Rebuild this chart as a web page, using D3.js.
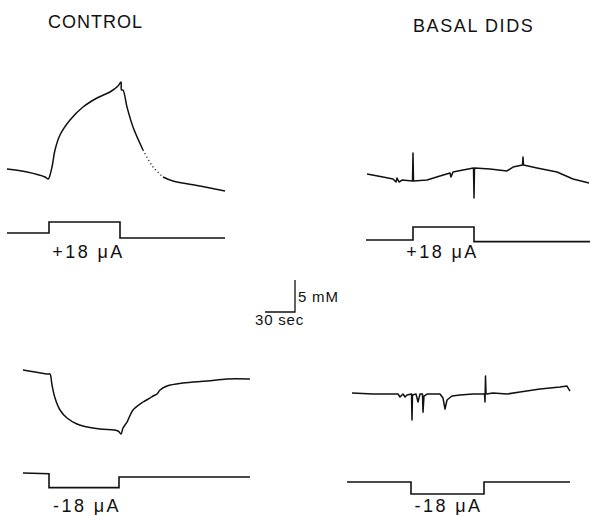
<!DOCTYPE html>
<html>
<head>
<meta charset="utf-8">
<script src="https://cdn.jsdelivr.net/npm/d3@7"></script>
<style>
  body { margin: 0; background: #fff; }
  text { font-family: "Liberation Sans", Arial, sans-serif; fill: #111; }
</style>
</head>
<body>
<svg id="fig"></svg>
<script>
const width = 590;
const height = 515;

// titles and stimulus labels
const titles = ["CONTROL", "BASAL DIDS"];
const stimLabels = ["+18 \u03bcA", "+18 \u03bcA", "-18 \u03bcA", "-18 \u03bcA"];

// CONTROL, +18 uA : time (s) and concentration change (mM)
const ctrlPosT = [0, 20, 38, 41, 42, 45, 48, 53, 63, 76, 90, 103, 111, 114, 114.5, 116, 120, 126, 136, 146, 156, 166, 193, 218];
const ctrlPosC = [0.16, -0.31, -1.09, -1.41, -1.25, 0.47, 3.13, 5.47, 7.81, 9.84, 11.25, 12.19, 13.13, 13.75, 12.5, 12.5, 9.84, 6.72, 3.13, 0.47, -1.09, -1.72, -2.5, -3.28];
const ctrlPosDotted = [136, 156]; // faint, dotted part of the recording

// BASAL DIDS, +18 uA
const didsPosT = [0, 16, 26, 29, 30, 32, 35, 45.5, 46, 46.5, 60, 73, 83, 84, 86, 96, 106.5, 107, 107.5, 123, 140, 146, 155.5, 156, 156.5, 170, 190, 206, 222];
const didsPosC = [0, -0.47, -0.78, -1.25, -0.63, -1.25, -0.94, -1.09, 3.28, -1.09, -0.94, -0.31, 0.16, -0.47, 0.31, 0.63, 0.94, -3.75, 0.94, 0.78, 0.47, 1.09, 1.41, 2.66, 1.41, 0.94, 0.31, -0.78, -1.41];

// CONTROL, -18 uA
const ctrlNegT = [0, 12, 25, 27, 29, 32, 37, 44, 54, 60, 77, 95, 98, 100, 104, 110, 120, 127, 130, 134, 137, 144, 160, 184, 204, 227];
const ctrlNegC = [0, -0.31, -0.63, -0.63, -2.34, -4.38, -6.25, -7.5, -8.44, -8.75, -9.22, -9.53, -10, -9.06, -8.13, -6.25, -5, -4.38, -4.06, -3.75, -3.13, -2.5, -2.03, -1.72, -1.41, -1.41];

// BASAL DIDS, -18 uA
const didsNegT = [0, 21, 46, 48, 51, 53, 55, 59.5, 60, 60.5, 64, 66, 68, 70.5, 71, 72, 75, 88, 91, 93, 95, 100, 108, 121, 132.5, 133, 133.5, 134, 134.5, 141, 155, 168, 188, 208, 215, 218];
const didsNegC = [0, -0.16, -0.16, -0.63, -0.16, -0.63, -0.31, -0.16, -4.22, -0.31, -0.16, -1.4, -0.16, -0.16, -3.0, -0.47, -0.16, -0.16, -0.78, -2.5, -1.09, -0.47, -0.31, -0.16, -0.16, -1.4, 2.66, 0, -0.16, 0, -0.16, 0.16, 0.63, 0.94, 1.09, 0.31];

// stimulus current traces: time (s), current (uA)
const ctrlPosStimT = [0, 42, 42, 113, 113, 218];
const ctrlPosStimI = [0, 0, 16.5, 16.5, -7.5, -7.5];
const didsPosStimT = [-1, 46, 46, 107, 107, 223];
const didsPosStimI = [0, 0, 19.5, 19.5, -2.5, -2.5];
const ctrlNegStimT = [0, 26, 26, 96, 96, 227];
const ctrlNegStimI = [0, -1, -22, -22, -6, -6];
const didsNegStimT = [-5, 59, 59, 132, 132, 218];
const didsNegStimI = [0, 0, -18, -18, 0, 0];

// scale bar
const barSeconds = 30;
const barMM = 5;

const pxPerSec = 1;
const pxPerMM = 6.4;
const pxPerUA = 0.667;

const svg = d3.select("#fig")
    .attr("width", width)
    .attr("height", height)
    .attr("viewBox", `0 0 ${width} ${height}`);

const zip = (t, v) => t.map((d, i) => ({ t: d, v: v[i] }));

// layout: where t=0 sits, trace baseline, stimulus baseline
const panels = [
  { x0: 7,   y0: 170, s0: 233, t: ctrlPosT, c: ctrlPosC, st: ctrlPosStimT, si: ctrlPosStimI, smooth: true, label: 0, dx: 4,  ly: 258 },
  { x0: 367, y0: 174, s0: 240, t: didsPosT, c: didsPosC, st: didsPosStimT, si: didsPosStimI, smooth: false, label: 1, dx: -1, ly: 258 },
  { x0: 23,  y0: 370, s0: 473, t: ctrlNegT, c: ctrlNegC, st: ctrlNegStimT, si: ctrlNegStimI, smooth: true, label: 2, dx: 3,  ly: 512 },
  { x0: 352, y0: 393, s0: 482, t: didsNegT, c: didsNegC, st: didsNegStimT, si: didsNegStimI, smooth: false, label: 3, dx: 1,  ly: 512 }
];

panels.forEach((p, i) => {
  const x = d3.scaleLinear().domain([0, 100]).range([p.x0, p.x0 + 100 * pxPerSec]);
  const y = d3.scaleLinear().domain([0, 10]).range([p.y0, p.y0 - 10 * pxPerMM]);
  const yi = d3.scaleLinear().domain([0, 18]).range([p.s0, p.s0 - 18 * pxPerUA]);

  const g = svg.append("g");
  const data = zip(p.t, p.c);
  const curve = p.smooth ? d3.curveCatmullRom.alpha(0.5) : d3.curveLinear;

  let solid = d3.line().x(d => x(d.t)).y(d => y(d.v)).curve(curve);
  if (i === 0) {
    const [a, b] = ctrlPosDotted;
    solid = solid.defined(d => d.t <= a || d.t >= b);
    g.append("path")
        .attr("d", d3.line().x(d => x(d.t)).y(d => y(d.v)).curve(curve)(data.filter(d => d.t >= a && d.t <= b)))
        .attr("fill", "none")
        .attr("stroke", "#222")
        .attr("stroke-width", 1.3)
        .attr("stroke-dasharray", "1.2,2.6");
  }
  g.append("path")
      .attr("d", solid(data))
      .attr("fill", "none")
      .attr("stroke", "#111")
      .attr("stroke-width", 1.5)
      .attr("stroke-linejoin", "round");

  const stim = zip(p.st, p.si);
  g.append("path")
      .attr("d", d3.line().x(d => x(d.t)).y(d => yi(d.v))(stim))
      .attr("fill", "none")
      .attr("stroke", "#111")
      .attr("stroke-width", 1.6);

  const mid = (p.st[1] + p.st[3]) / 2;
  g.append("text")
      .attr("x", x(mid) + p.dx)
      .attr("y", p.ly)
      .attr("text-anchor", "middle")
      .attr("font-size", 18)
      .attr("letter-spacing", 2.4)
      .text(stimLabels[p.label]);
});

// column titles
svg.append("text").attr("x", 48).attr("y", 28)
    .attr("font-size", 18).attr("letter-spacing", 1)
    .text(titles[0]);
svg.append("text").attr("x", 413).attr("y", 32)
    .attr("font-size", 18).attr("letter-spacing", 1.6)
    .text(titles[1]);

// calibration bar
const bx = d3.scaleLinear().domain([0, barSeconds]).range([265, 265 + barSeconds * pxPerSec]);
const by = d3.scaleLinear().domain([0, barMM]).range([312, 312 - barMM * pxPerMM]);
svg.append("path")
    .attr("d", d3.line()([[bx(0), by(0)], [bx(barSeconds), by(0)], [bx(barSeconds), by(barMM)]]))
    .attr("fill", "none")
    .attr("stroke", "#111")
    .attr("stroke-width", 1.3);
svg.append("text").attr("x", bx(barSeconds) + 3).attr("y", 302)
    .attr("font-size", 15).attr("letter-spacing", 0.8).text(`${barMM} mM`);
svg.append("text").attr("x", 255).attr("y", 325)
    .attr("font-size", 15).attr("letter-spacing", 0.8).text(`${barSeconds} sec`);
</script>
</body>
</html>
